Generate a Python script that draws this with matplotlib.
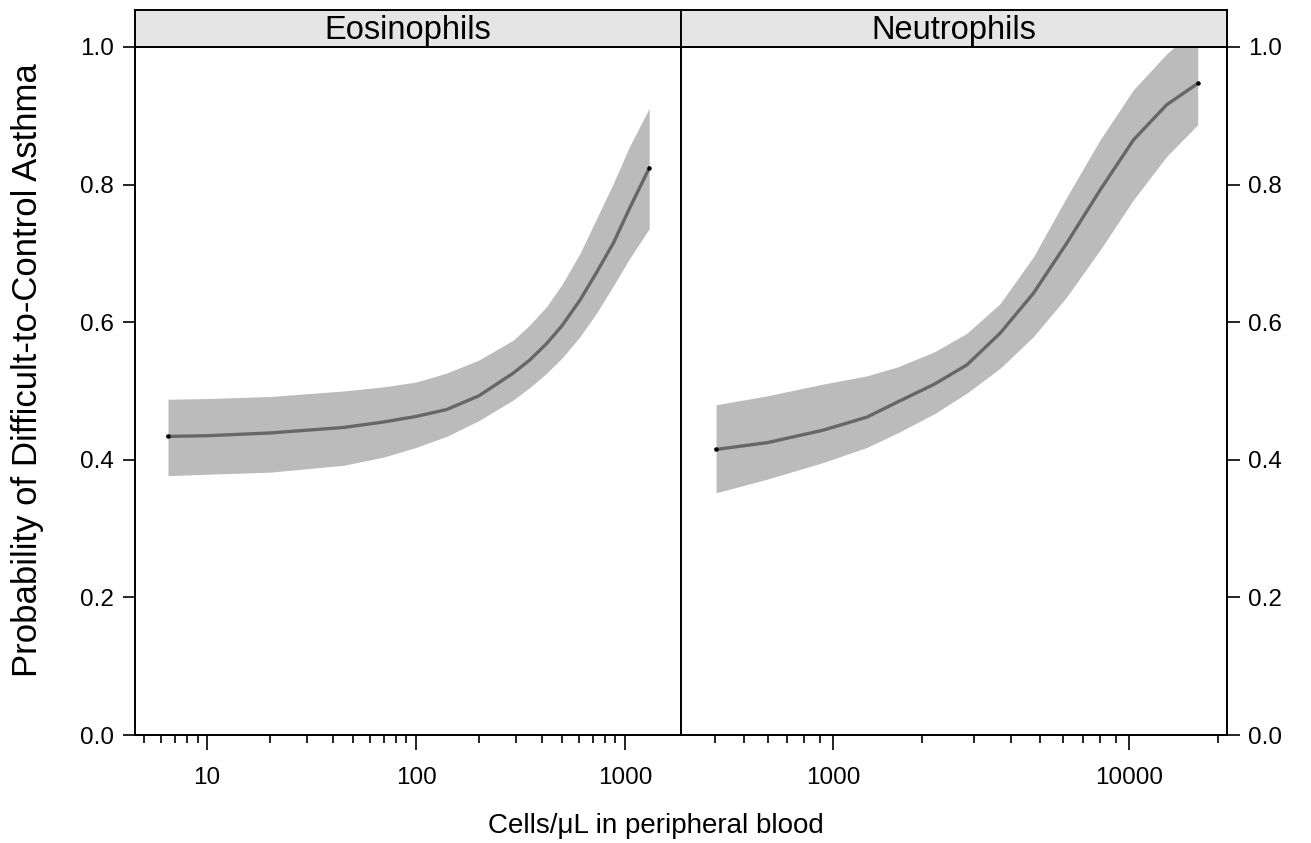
import numpy as np
import matplotlib
matplotlib.use("Agg")
import matplotlib.pyplot as plt
from matplotlib.ticker import LogLocator, NullFormatter, FuncFormatter

plt.rcParams['font.family'] = ['Liberation Sans', 'DejaVu Sans']

# values (cells/uL, probability)
eos_x = [6.5, 10, 20, 45, 70, 100, 140, 200, 292, 350, 422, 500, 609, 730, 880, 1050, 1306]
eos_fit = [0.434, 0.435, 0.439, 0.447, 0.455, 0.463, 0.473, 0.493, 0.526, 0.545, 0.569,
           0.595, 0.632, 0.672, 0.715, 0.765, 0.824]
eos_lo = [0.377, 0.379, 0.382, 0.392, 0.404, 0.418, 0.434, 0.457, 0.487, 0.505, 0.526,
          0.548, 0.579, 0.613, 0.653, 0.692, 0.736]
eos_hi = [0.488, 0.489, 0.492, 0.500, 0.506, 0.513, 0.526, 0.545, 0.574, 0.596, 0.623,
          0.655, 0.700, 0.750, 0.802, 0.855, 0.911]

neu_x = [402, 600, 924, 1300, 1650, 2200, 2832, 3666, 4750, 6160, 7980, 10350, 13400, 17060]
neu_fit = [0.415, 0.425, 0.443, 0.462, 0.484, 0.510, 0.538, 0.584, 0.642, 0.715, 0.792,
           0.865, 0.916, 0.947]
neu_lo = [0.352, 0.372, 0.396, 0.418, 0.439, 0.467, 0.497, 0.533, 0.579, 0.637, 0.705,
          0.778, 0.841, 0.887]
neu_hi = [0.480, 0.493, 0.510, 0.522, 0.535, 0.557, 0.584, 0.627, 0.695, 0.782, 0.865,
          0.938, 0.990, 1.030]

panels = ["Eosinophils", "Neutrophils"]
xlims = [(4.52, 1854), (306, 21430)]
yticks = [0.0, 0.2, 0.4, 0.6, 0.8, 1.0]

fig = plt.figure(figsize=(13.11, 8.43), dpi=100)
W, H = 1311, 843
left_px, mid_px, right_px = 135, 681, 1227
top_px, bot_px, strip_top = 47, 735, 10

data = [(eos_x, eos_fit, eos_lo, eos_hi), (neu_x, neu_fit, neu_lo, neu_hi)]
edges = [(left_px, mid_px), (mid_px, right_px)]

for i, (name, (x, fit, lo, hi)) in enumerate(zip(panels, data)):
    x0, x1 = edges[i]
    ax = fig.add_axes([x0 / W, 1 - bot_px / H, (x1 - x0) / W, (bot_px - top_px) / H])
    ax.fill_between(x, lo, hi, color='#BBBBBB', lw=0)
    ax.plot(x, fit, color='#676767', lw=2.4, solid_joinstyle='round')
    ax.plot([x[0], x[-1]], [fit[0], fit[-1]], 'o', color='black', ms=2.2)
    ax.set_xscale('log')
    ax.set_xlim(*xlims[i])
    ax.set_ylim(0, 1)
    ax.xaxis.set_major_locator(LogLocator(base=10, numticks=10))
    ax.xaxis.set_minor_locator(LogLocator(base=10, subs=np.arange(2, 10), numticks=20))
    ax.xaxis.set_minor_formatter(NullFormatter())
    ax.xaxis.set_major_formatter(FuncFormatter(lambda v, p: "%d" % v))
    ax.set_yticks(yticks)
    ax.set_yticklabels(["%.1f" % t for t in yticks])
    ax.tick_params(axis='x', which='major', length=11, width=1.2, labelsize=17.5, pad=12)
    ax.tick_params(axis='x', which='minor', length=6, width=1.2)
    ax.tick_params(axis='y', length=9, width=1.2, labelsize=17.5, pad=6)
    if i == 0:
        ax.yaxis.tick_left()
    else:
        ax.yaxis.tick_right()
    for s in ax.spines.values():
        s.set_linewidth(1.4)

    # strip
    sax = fig.add_axes([x0 / W, 1 - top_px / H, (x1 - x0) / W, (top_px - strip_top) / H])
    sax.set_facecolor('#E5E5E5')
    sax.set_xticks([])
    sax.set_yticks([])
    for s in sax.spines.values():
        s.set_linewidth(1.4)
    sax.text(0.5, 0.45, name, ha='center', va='center', fontsize=23.5, transform=sax.transAxes)

fig.text(0.5, 1 - 826 / H, "Cells/\u03bcL in peripheral blood",
         ha='center', va='center', fontsize=20)
fig.text(28 / W, 1 - 370 / H, "Probability of Difficult-to-Control Asthma",
         ha='center', va='center', rotation=90, fontsize=25)

fig.savefig("out.png", dpi=100)
